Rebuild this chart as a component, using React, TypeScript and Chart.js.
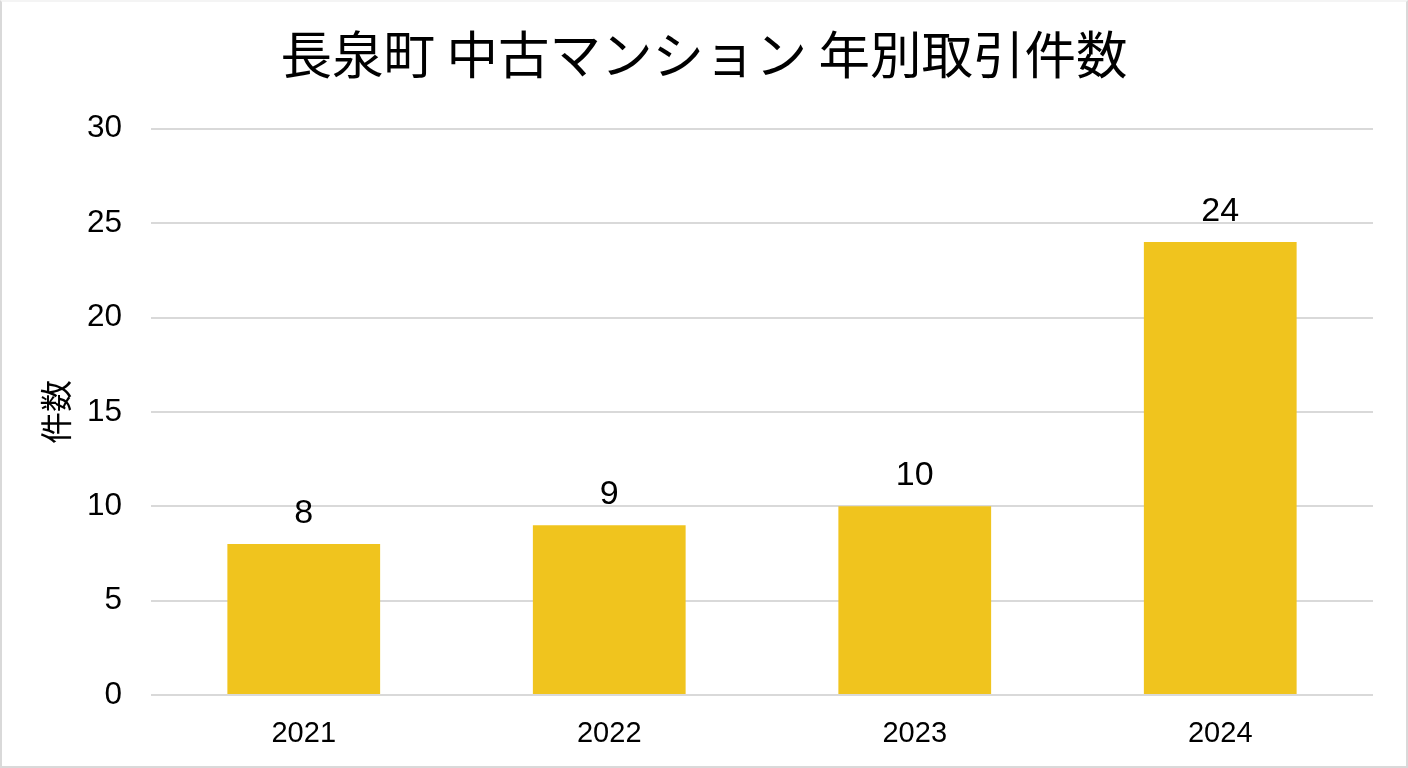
import React, { useEffect, useRef } from "react";
import { Chart, registerables } from "chart.js";

Chart.register(...registerables);

const TITLE = "長泉町 中古マンション 年別取引件数";
const Y_TITLE = "件数";
const categories = ["2021", "2022", "2023", "2024"];
const counts = [8, 9, 10, 24];
const yTicks = { min: 0, max: 30, step: 5 };

const BAR_COLOR = "#F0C41E";
const GRID_COLOR = "#d9d9d9";
const NUM_FONT = "'Liberation Sans', Arial, 'Noto Sans CJK JP', sans-serif";
const JP_FONT = "'Noto Sans CJK JP', 'Liberation Sans', sans-serif";

const valueLabels = {
  id: "valueLabels",
  afterDatasetsDraw(chart: any) {
    const ctx = chart.ctx;
    const meta = chart.getDatasetMeta(0);
    const data = chart.data.datasets[0].data;
    ctx.save();
    ctx.font = `34px ${NUM_FONT}`;
    ctx.fillStyle = "#000";
    ctx.textAlign = "center";
    ctx.textBaseline = "alphabetic";
    meta.data.forEach((bar: any, i: number) => {
      ctx.fillText(String(data[i]), bar.x, bar.y - 21);
    });
    ctx.restore();
  },
};

export default function App() {
  const ref = useRef<HTMLCanvasElement | null>(null);

  useEffect(() => {
    document.body.style.margin = "0";
    if (!ref.current) return;
    const chart = new Chart(ref.current, {
      type: "bar",
      data: {
        labels: categories,
        datasets: [
          {
            data: counts,
            backgroundColor: BAR_COLOR,
            borderWidth: 0,
            categoryPercentage: 1,
            barPercentage: 0.5,
            yAxisID: "y",
          },
        ],
      },
      options: {
        responsive: false,
        animation: false,
        devicePixelRatio: 1,
        layout: { padding: { left: 0, right: 0, top: 0, bottom: 0 } },
        plugins: {
          legend: { display: false },
          tooltip: { enabled: false },
          title: {
            display: true,
            text: TITLE,
            color: "#000",
            font: { family: JP_FONT, size: 51.5, weight: "normal" },
            padding: { top: 22, bottom: 43 },
          },
        },
        scales: {
          x: {
            grid: { display: false, drawTicks: false },
            border: { display: false },
            ticks: {
              color: "#000",
              font: { family: NUM_FONT, size: 29 },
              padding: 22,
            },
            afterFit: (s: any) => {
              s.height = 71;
            },
          },
          y: {
            min: yTicks.min,
            max: yTicks.max,
            grid: { color: GRID_COLOR, lineWidth: 2, drawTicks: false },
            border: { display: false },
            ticks: {
              stepSize: yTicks.step,
              color: "#000",
              font: { family: NUM_FONT, size: 31.5 },
              padding: 29,
            },
            title: {
              display: true,
              text: Y_TITLE,
              color: "#000",
              font: { family: JP_FONT, size: 32 },
              padding: { top: 35, bottom: 0 },
            },
            afterFit: (s: any) => {
              s.width = 149;
            },
          },
          yRight: {
            type: "linear",
            position: "right",
            display: true,
            min: yTicks.min,
            max: yTicks.max,
            grid: { display: false, drawTicks: false },
            border: { display: false },
            ticks: { display: false },
            afterFit: (s: any) => {
              s.width = 33;
            },
          },
        },
      },
      plugins: [valueLabels],
    });
    return () => chart.destroy();
  }, []);

  return (
    <div
      style={{
        position: "fixed",
        left: 0,
        top: 0,
        width: 1408,
        height: 768,
        boxSizing: "border-box",
        border: "2px solid #d9d9d9",
        borderTop: "2px solid #f4f4f4",
        background: "#fff",
      }}
    >
      <canvas ref={ref} width={1404} height={764} style={{ display: "block" }} />
    </div>
  );
}
